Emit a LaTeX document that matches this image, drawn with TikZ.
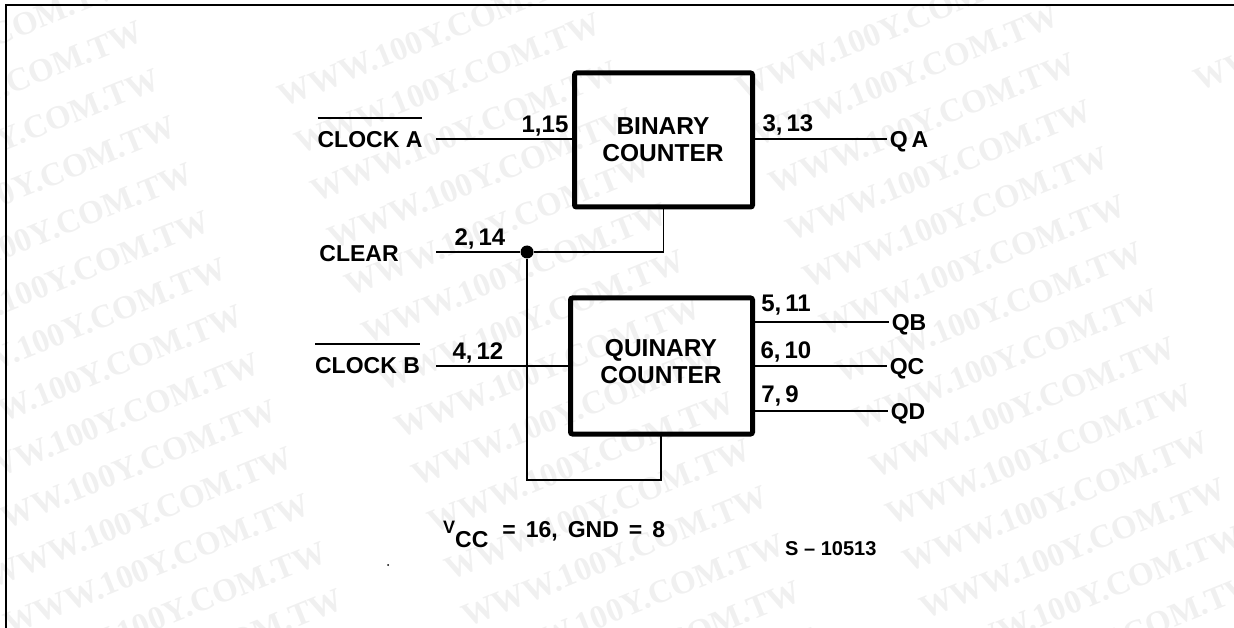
\documentclass[tikz,border=0pt]{standalone}
\usepackage{fontspec}
\setmainfont{Liberation Sans}
\newfontfamily\wmfont{Liberation Serif}
\tikzset{
  wmark/.style={font=\wmfont\bfseries\fontsize{33}{33}\selectfont, text=black!6, rotate=22, anchor=north east, inner sep=0pt},
  wire/.style={line width=1.8pt},
  counter/.style={draw, line width=5pt, rounded corners=2pt, inner sep=0pt, outer sep=0pt},
  boxtext/.style={align=center, inner sep=0pt, font=\bfseries\fontsize{24.5}{27}\selectfont},
  signal/.style={font=\bfseries\fontsize{23}{23}\selectfont, text height=17pt, text depth=0pt, inner sep=0pt, outer xsep=3pt},
  pin/.style={font=\bfseries\fontsize{24}{24}\selectfont\spaceskip 4pt\relax, inner sep=0pt}
}
\begin{document}
\begin{tikzpicture}[x=1pt,y=-1pt]
  \useasboundingbox (0,0) rectangle (1234,628);
  \clip (0,0) rectangle (1234,628);

  % watermark
  \foreach \i in {0,1,2} {
    \foreach \j in {-1,...,13} {
      \node[wmark] (wm\i\j) at ({137+458*\i+16.7*\j},{20-8*\i+47.3*\j}) {WWW.100Y.COM.TW};
    }
  }
  \node[wmark] (wmx) at ({137+458*3-16.7*1},{20-24-47.3}) {WWW.100Y.COM.TW};

  \draw[line width=2pt] (6,628) -- (6,5) -- (1234,5);

  \node[counter, minimum width=178pt, minimum height=134pt] (binary) at (663.5,140) {};
  \node[counter, minimum width=182pt, minimum height=136pt] (quinary) at (661.5,366) {};
  \node[boxtext] (binarytext) at (663,139.5) {BINARY\\COUNTER};
  \node[boxtext] (quinarytext) at (661,362) {QUINARY\\COUNTER};

  \node[signal] (clka) at (370,139) {CLOCK A};
  \node[signal] (clear) at (359,253) {CLEAR};
  \node[signal] (clkb) at (367.5,365) {CLOCK B};
  \node[signal] (qa) at (909,139) {Q\kern4pt A};
  \node[signal] (qb) at (909,322) {QB};
  \node[signal] (qc) at (907,366) {QC};
  \node[signal] (qd) at (908,411) {QD};

  \coordinate (clkain) at (436,139);
  \coordinate (clearin) at (436,252);
  \coordinate (clkbin) at (436,366);

  \node[pin] (p115) at (545,126) {1,15};
  \node[pin] (p214) at (480,239) {2, 14};
  \node[pin] (p412) at (478,353) {4, 12};
  \node[pin] (p313) at (788,125) {3, 13};
  \node[pin] (p511) at (786,305) {5, 11};
  \node[pin] (p610) at (786,352) {6, 10};
  \node[pin] (p79) at (780,396) {7, 9};

  % bars over the two clock inputs
  \draw[wire] ([shift={(3,-12)}]clka.north west) -- ([shift={(-3,-12)}]clka.north east);
  \draw[wire] ([shift={(3,-12)}]clkb.north west) -- ([shift={(-3,-12)}]clkb.north east);

  \draw[wire] (clkain) -- (binary.west |- clkain);
  \draw[wire] (clkbin) -- (quinary.west |- clkbin);
  \draw[wire] (binary.east |- qa) -- (qa);
  \draw[wire] (quinary.east |- qb) -- (qb);
  \draw[wire] (quinary.east |- qc) -- (qc);
  \draw[wire] (quinary.east |- qd) -- (qd);

  \node[circle, fill=black, inner sep=0pt, minimum size=13pt] (dot) at (527,252) {};
  \coordinate (loop1) at (527,480);
  \coordinate (loop2) at (661,480);
  \draw[wire] (clearin) -- (dot) -- (dot -| binary.south) -- (binary.south);
  \draw[wire] (dot) -- (loop1) -- (loop2) -- (quinary.south -| loop2);

  \node[anchor=base west, inner sep=0pt, font=\bfseries\fontsize{23}{23}\selectfont\spaceskip 10pt\relax] (vcc) at (443,537)
    {\raisebox{4pt}{\fontsize{18}{18}\selectfont V}\raisebox{-10pt}{CC}\kern14pt = 16, GND = 8};
  \node[anchor=base west, inner sep=0pt, font=\bfseries\fontsize{20}{20}\selectfont] (sref) at (785,555) {S -- 10513};
  \fill (388,565) circle (1pt);
\end{tikzpicture}
\end{document}
